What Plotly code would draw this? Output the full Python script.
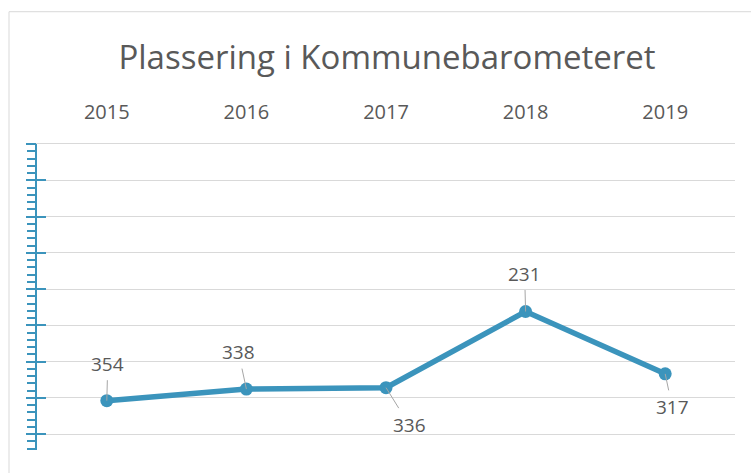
import plotly.graph_objects as go

years = ["2015", "2016", "2017", "2018", "2019"]
ranks = [354, 338, 336, 231, 317]
# label offsets (pixels) relative to each point
label_dx = [1, -8, 23, -1, 7]
label_dy = [-37, -37, 37, -38, 33]

title = "Plassering i Kommunebarometeret"
y_max = 422

LINE = "#3B94BC"
GRID = "#D9D9D9"
TEXT = "#595959"
FONT = "Open Sans"

W, H = 751, 473
L, R, T, B = 37, 16, 143.5, 23
pw, ph = W - L - R, H - T - B

fig = go.Figure()
fig.add_trace(go.Scatter(
    x=years, y=ranks, mode="lines+markers",
    line=dict(color=LINE, width=5.5),
    marker=dict(color=LINE, size=13),
    hoverinfo="x+y", showlegend=False,
))
# invisible traces hosting helper y axes (inside half of major ticks, minor ticks)
for ya in ("y2", "y3"):
    fig.add_trace(go.Scatter(x=years, y=ranks, yaxis=ya, mode="markers",
                             marker=dict(opacity=0), showlegend=False, hoverinfo="skip"))

annotations = []
for i, (v, dx, dy) in enumerate(zip(ranks, label_dx, label_dy)):
    annotations.append(dict(
        x=i, y=v, xref="x", yref="y", text=str(v), showarrow=True,
        ax=dx, ay=dy,
        arrowhead=0, arrowwidth=1, arrowcolor="#A6A6A6", standoff=0,
        font=dict(family=FONT, size=19, color=TEXT), borderpad=3,
    ))

helper = dict(range=[y_max, 0], overlaying="y", side="left", anchor="x",
              showgrid=False, zeroline=False, showline=False, showticklabels=False,
              tickcolor=LINE)

fig.update_layout(
    width=W, height=H,
    margin=dict(l=L, r=R, t=T, b=B),
    paper_bgcolor="white", plot_bgcolor="white",
    title=dict(text=title, x=387 / W, y=1 - 57 / H, xref="container", yref="container",
               xanchor="center", yanchor="middle",
               font=dict(family=FONT, size=33, color=TEXT)),
    xaxis=dict(type="category", range=[-0.5, 4.5], side="top", showgrid=False,
               zeroline=False, showline=True, linecolor=GRID, linewidth=1.3,
               ticks="outside", ticklen=16, tickcolor="rgba(0,0,0,0)",
               tickfont=dict(family=FONT, size=20, color=TEXT)),
    yaxis=dict(range=[y_max, 0], dtick=50, tick0=0, showgrid=True, gridcolor=GRID,
               gridwidth=1.3, zeroline=False, showline=True, linecolor=LINE, linewidth=2,
               ticks="outside", ticklen=9, tickwidth=2, tickcolor=LINE,
               showticklabels=False),
    yaxis2=dict(helper, dtick=50, tick0=0, ticks="inside", ticklen=9, tickwidth=2),
    yaxis3=dict(helper, dtick=10, tick0=0, ticks="outside", ticklen=9, tickwidth=1.5),
    annotations=annotations,
)
fig.add_shape(type="rect", xref="paper", yref="paper",
              x0=(9 - L) / pw, x1=(W + 20 - L) / pw,
              y0=-(B + 20) / ph, y1=1 + (T - 11) / ph,
              line=dict(color=GRID, width=1), layer="below")

fig.write_html("out.html", config={"displayModeBar": False},
               post_script="document.body.style.margin='0';")
